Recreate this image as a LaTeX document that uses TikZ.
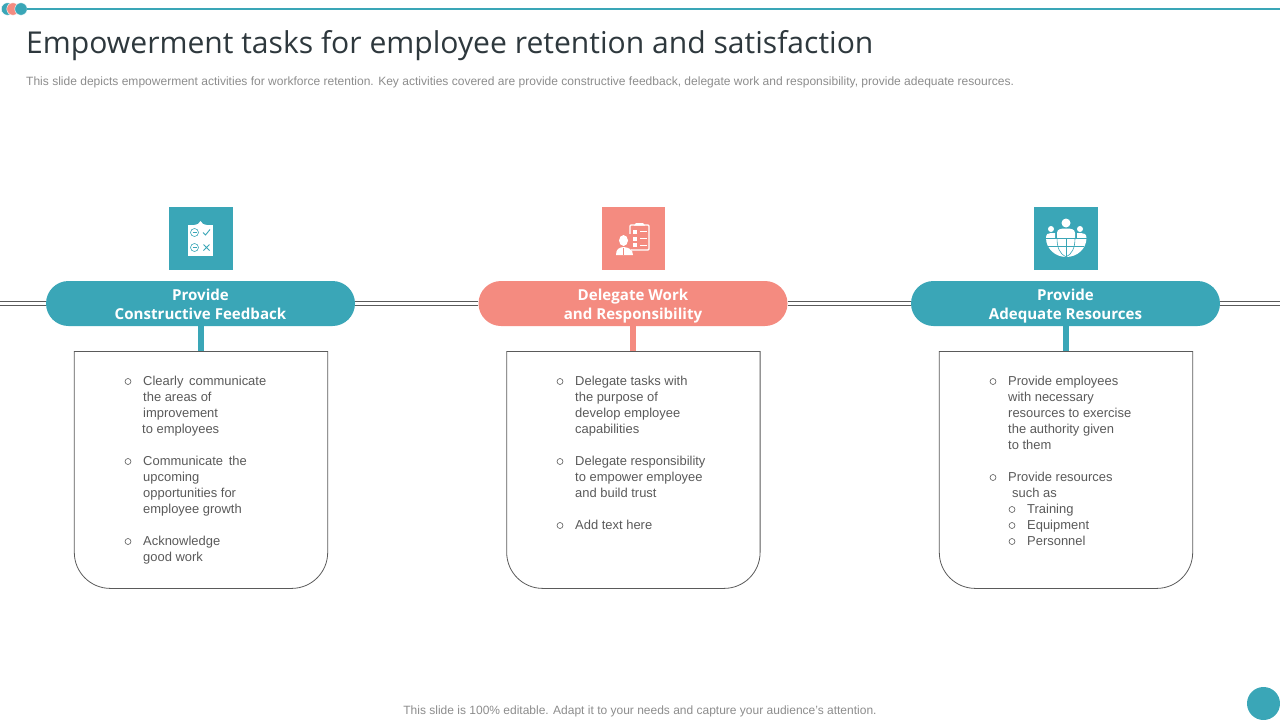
\documentclass[tikz,border=0pt]{standalone}
\usepackage{xcolor}
\usepackage{fontspec}
\usepackage{tikz}
\setmainfont{Liberation Sans}
\newfontfamily\titlefont{Open Sans}
\newcommand{\pilltop}{\rule{0pt}{19.3pt}}
\definecolor{tealbar}{HTML}{3AA6B7}
\definecolor{salmonbar}{HTML}{F48B80}
\definecolor{inktext}{HTML}{595959}
\definecolor{paletext}{HTML}{8C8C8C}
\definecolor{titleink}{HTML}{2E383D}
\definecolor{edgegray}{HTML}{5A5A5A}
\tikzset{
	pill/.style={fill=#1, text=white, minimum width=309pt, minimum height=45pt, rounded corners=22.5pt, align=center, inner sep=0pt, font=\titlefont\bfseries\fontsize{15.1}{19}\selectfont},
	sheet/.style={minimum width=253pt, minimum height=237pt, inner sep=0pt},
	sheetedge/.style={draw=edgegray, line width=0.8pt},
	stem/.style={line width=6pt, draw=#1},
	rail/.style={draw=edgegray, line width=0.9pt},
	listtext/.style={anchor=north west, align=left, inner sep=0pt, text=inktext, font=\fontsize{12.95}{16}\selectfont},
	dot/.style={circle, draw=inktext, line width=0.6pt, minimum size=6pt, inner sep=0pt},
	tile/.style={fill=#1, minimum width=63.5pt, minimum height=63pt, inner sep=0pt},
	iconline/.style={draw=tealbar, line width=0.6pt}
}
\begin{document}
\begin{tikzpicture}[x=1pt,y=-1pt]
	\useasboundingbox (0,0) rectangle (1280,720);
	% top strip
	\coordinate (stripend) at (1280,9);
	\node[circle, fill=tealbar, draw=white, line width=0.4pt, minimum size=12.5pt, inner sep=0pt] (dotone) at (7.5,9) {};
	\node[circle, fill=salmonbar, draw=white, line width=0.4pt, minimum size=12.5pt, inner sep=0pt] (dottwo) at (13,9) {};
	\node[circle, fill=tealbar, draw=white, line width=0.4pt, minimum size=12.5pt, inner sep=0pt] (dotthree) at (21,9) {};
	\draw[tealbar, line width=1.3pt] (dotthree) -- (stripend);
	% title
	\node[anchor=base west, inner sep=0pt, text=titleink, font=\titlefont\fontsize{30.1}{36}\selectfont] (title) at (26,53.5) {Empowerment tasks for employee retention and satisfaction};
	\node[anchor=base west, inner sep=0pt, text=paletext, font=\fontsize{12.03}{14}\selectfont] (subtitle) at (26,85) {This slide depicts empowerment activities for workforce retention. Key activities covered are provide constructive feedback, delegate work and responsibility, provide adequate resources.};
	% rails
	\coordinate (railleft) at (0,303.5);
	\coordinate (railright) at (1280,303.5);
	\node[pill=tealbar] (pillone) at (200.5,303.5) {\pilltop Provide\\Constructive Feedback\strut};
	\node[pill=salmonbar] (pilltwo) at (633,303.5) {\pilltop Delegate Work\\and Responsibility\strut};
	\node[pill=tealbar] (pillthree) at (1065.5,303.5) {\pilltop Provide\\Adequate Resources\strut};
	\draw[rail] ([yshift=-1.6pt]railleft) -- ([yshift=-1.6pt]railleft -| pillone.west);
	\draw[rail] ([yshift=1.6pt]railleft) -- ([yshift=1.6pt]railleft -| pillone.west);
	\draw[rail] ([yshift=-1.6pt]pillone.east) -- ([yshift=-1.6pt]pilltwo.west);
	\draw[rail] ([yshift=1.6pt]pillone.east) -- ([yshift=1.6pt]pilltwo.west);
	\draw[rail] ([yshift=-1.6pt]pilltwo.east) -- ([yshift=-1.6pt]pillthree.west);
	\draw[rail] ([yshift=1.6pt]pilltwo.east) -- ([yshift=1.6pt]pillthree.west);
	\draw[rail] ([yshift=-1.6pt]pillthree.east) -- ([yshift=-1.6pt]railright);
	\draw[rail] ([yshift=1.6pt]pillthree.east) -- ([yshift=1.6pt]railright);
	% sheets
	\node[sheet] (sheetone) at (201,469.7) {};
	\node[sheet] (sheettwo) at (633.4,469.7) {};
	\node[sheet] (sheetthree) at (1066,469.7) {};
	\draw[stem=tealbar] (pillone.south -| sheetone.north) -- (sheetone.north);
	\draw[stem=salmonbar] (pilltwo.south -| sheettwo.north) -- (sheettwo.north);
	\draw[stem=tealbar] (pillthree.south -| sheetthree.north) -- (sheetthree.north);
	\draw[sheetedge, rounded corners=36pt] (sheetone.north west) -- (sheetone.south west) -- (sheetone.south east) -- (sheetone.north east);
	\draw[sheetedge] (sheetone.north west) -- (sheetone.north east);
	\draw[sheetedge, rounded corners=36pt] (sheettwo.north west) -- (sheettwo.south west) -- (sheettwo.south east) -- (sheettwo.north east);
	\draw[sheetedge] (sheettwo.north west) -- (sheettwo.north east);
	\draw[sheetedge, rounded corners=36pt] (sheetthree.north west) -- (sheetthree.south west) -- (sheetthree.south east) -- (sheetthree.north east);
	\draw[sheetedge] (sheetthree.north west) -- (sheetthree.north east);
	% first list
	\node[dot] (dota) at (128,381.5) {};
	\node[listtext] (lista) at (143,375.6) {Clearly \,communicate\\the areas of\\improvement\\\hspace{-1pt}to employees};
	\node[dot] (dotb) at (128,461.5) {};
	\node[listtext] (listb) at (143,455.6) {Communicate \,the\\upcoming\\opportunities for\\employee growth};
	\node[dot] (dotc) at (128,541.5) {};
	\node[listtext] (listc) at (143,535.6) {Acknowledge\\good work};
	% second list
	\node[dot] (dotd) at (560,381.5) {};
	\node[listtext] (listd) at (575,375.6) {Delegate tasks with\\the purpose of\\develop employee\\capabilities};
	\node[dot] (dote) at (560,461.5) {};
	\node[listtext] (liste) at (575,455.6) {Delegate responsibility\\to empower employee\\and build trust};
	\node[dot] (dotf) at (560,525.5) {};
	\node[listtext] (listf) at (575,519.6) {Add text here};
	% third list
	\node[dot] (dotg) at (993,381.5) {};
	\node[listtext] (listg) at (1008,375.6) {Provide employees\\with necessary\\resources to exercise\\the authority given\\to them};
	\node[dot] (doth) at (993,477.5) {};
	\node[listtext] (listh) at (1008,471.6) {Provide resources\\\hspace{4pt}such as};
	\node[dot] (doti) at (1012,509.5) {};
	\node[listtext] (listi) at (1027,503.6) {Training};
	\node[dot] (dotj) at (1012,525.5) {};
	\node[listtext] (listj) at (1027,519.6) {Equipment};
	\node[dot] (dotk) at (1012,541.5) {};
	\node[listtext] (listk) at (1027,535.6) {Personnel};
	% footer
	\node[inner sep=0pt, text=paletext, font=\fontsize{12}{14}\selectfont] (footer) at (640,711.5) {This slide is 100\% editable. Adapt it to your needs and capture your audience's attention.};
	\node[circle, fill=tealbar, minimum size=33pt, inner sep=0pt] (pagedot) at (1263.5,703.5) {};
	% icon one, clipboard
	\node[tile=tealbar] (tileone) at (201,238.5) {};
	\fill[white] (188,224.5) rectangle (213,256);
	\fill[white] (194,225) -- (198,224) -- (200.5,221) -- (203,224) -- (207,225) -- cycle;
	\draw[iconline] (194.5,232.5) circle (4);
	\draw[iconline] (192.5,232.5) -- (196.5,232.5);
	\draw[iconline] (194.5,247.5) circle (4);
	\draw[iconline] (192.5,247.5) -- (196.5,247.5);
	\draw[iconline, line width=0.9pt] (203,232.5) -- (205.5,235) -- (210,229.5);
	\draw[iconline, line width=1pt] (203.5,244.5) -- (209.5,250.5) (209.5,244.5) -- (203.5,250.5);
	% icon two, clipboard and person
	\node[tile=salmonbar] (tiletwo) at (633.5,238.5) {};
	\draw[white, line width=1.2pt, rounded corners=1pt] (630,225) rectangle (649,250);
	\fill[white] (634,225.5) -- (636,223) -- (643,223) -- (645,225.5) -- cycle;
	\foreach \rowy in {229.5,236.5,243}
	{
		\fill[white] (633,\rowy) rectangle (637,\rowy+4);
		\draw[white, line width=0.9pt] (640,\rowy+2) -- (647,\rowy+2);
	}
	\fill[salmonbar] (618,234) rectangle (631,256);
	\fill[white] (623.5,240.5) ellipse (4.5 and 5.5);
	\fill[white] (616,255) .. controls (616,249) and (619,247.5) .. (623.5,247) .. controls (628,247.5) and (633,249) .. (633,255) -- cycle;
	\draw[salmonbar, line width=0.7pt] (623.5,248) -- (623.5,255);
	% icon three, globe and people
	\node[tile=tealbar] (tilethree) at (1066,238.5) {};
	\fill[white] (1046,238) arc (180:0:20.25 and 19) -- cycle;
	\fill[white] (1066,223) circle (4.5);
	\fill[white] (1057,240) -- (1057,233) .. controls (1057,229) and (1061,228.5) .. (1066,228.5) .. controls (1071,228.5) and (1075,229) .. (1075,233) -- (1075,240) -- cycle;
	\fill[white] (1051,229) circle (3);
	\fill[white] (1080,229) circle (3);
	\fill[white] (1046,238) .. controls (1046,234) and (1048,233) .. (1051,233) -- (1055,233) -- (1055,238) -- cycle;
	\fill[white] (1086.5,238) .. controls (1086.5,234) and (1084,233) .. (1081,233) -- (1077,233) -- (1077,238) -- cycle;
	\draw[iconline] (1046,238) -- (1086.5,238);
	\draw[iconline] (1048,246) -- (1084,246);
	\draw[iconline] (1066,238) -- (1066,257);
	\draw[iconline] (1057,238) .. controls (1057,248) and (1060,254) .. (1066,257);
	\draw[iconline] (1075,238) .. controls (1075,248) and (1072,254) .. (1066,257);
\end{tikzpicture}
\end{document}
